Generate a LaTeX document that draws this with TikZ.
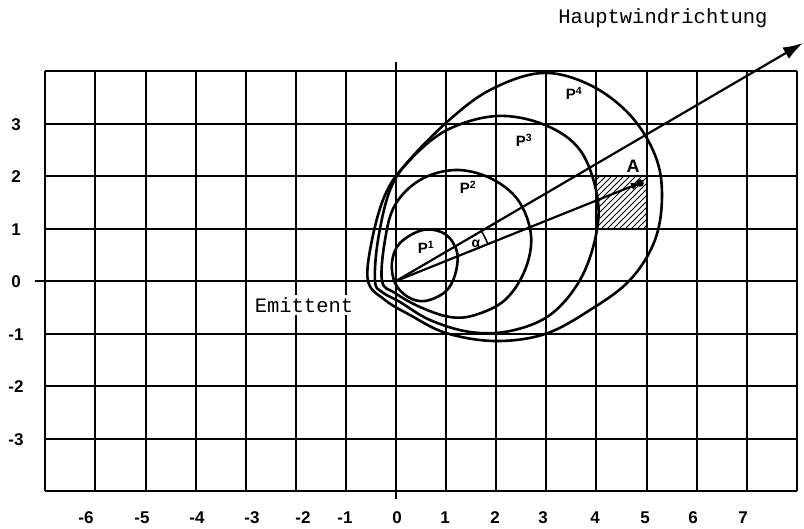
\documentclass[tikz,border=0pt]{standalone}
\usepackage{fontspec}
\setmainfont{Liberation Sans}
\setmonofont{Liberation Mono}
\usetikzlibrary{arrows.meta}
\begin{document}
\begin{tikzpicture}[x=1pt,y=-1pt,
  gridline/.style={line width=2pt, black},
  curve/.style={line width=2.6pt, black},
  num/.style={font=\fontsize{17}{17}\selectfont\bfseries, inner sep=0pt},
  plabel/.style={font=\fontsize{15}{15}\selectfont\bfseries, inner sep=0pt},
  mono/.style={font=\ttfamily\fontsize{20.5}{20.5}\selectfont, inner sep=0pt}]
\useasboundingbox (0,0) rectangle (804,528);
\fill[white] (0,0) rectangle (804,528);
% grid
\foreach \i in {-7,...,8} { \draw[gridline] ({396+50.1*\i},71) -- ({396+50.1*\i},491); }
\foreach \j in {-4,...,4} { \draw[gridline] (45.3,{281-52.5*\j}) -- (796.8,{281-52.5*\j}); }
\draw[gridline] (396,62) -- (396,499);
\draw[gridline] (35,281) -- (46,281);
% axis labels
\foreach \i/\xx in {-6/86,-5/142,-4/197,-3/252,-2/303,-1/345,0/397,1/445,2/495,3/543,4/595,5/645,6/693,7/743}
  { \node[num] (xl\i) at (\xx,518) {\i}; }
\foreach \j in {-3,...,3}
  { \node[num] (yl\j) at (16,{282-52.5*\j}) {\j}; }
% hatched square
\begin{scope}
  \clip (596,177) rectangle (646.5,228);
  \foreach \k in {-54,-48,...,54} { \draw[line width=0.8pt] ({596+\k},228) -- ({647+\k},177); }
\end{scope}
% curves
\draw[curve] plot[smooth cycle, tension=0.6] coordinates {(395,283) (392,262) (400,243) (423,230) (445,234) (457,252) (455,275) (445,292) (425,301) (408,297)};
\draw[curve] plot[smooth cycle, tension=0.6] coordinates {(382,281) (385,240) (395,205) (420,180) (455,170) (490,178) (518,200) (531,235) (525,270) (505,300) (475,315) (450,317) (420,307) (395,293)};
\draw[curve] plot[smooth cycle, tension=0.6] coordinates {(375,281) (378,240) (390,190) (410,160) (447,130) (497,116) (545,125) (580,150) (597,195) (596,235) (580,280) (550,315) (510,331) (470,332) (430,320) (400,302) (382,292)};
\draw[curve] plot[smooth cycle, tension=0.6] coordinates {(368,281) (372,240) (385,195) (405,165) (447,122) (490,90) (542,73) (590,85) (630,115) (655,155) (662,195) (655,240) (630,280) (590,310) (545,334) (495,341) (446,333) (410,315) (385,300)};
% arrows
\coordinate (O) at (396,281);
\coordinate (W) at (803,43);
\coordinate (A) at (640,183);
\draw[line width=2.2pt, -{Latex[length=20pt,width=13pt]}] (O) -- (W);
\draw[line width=2.2pt, -{Latex[length=9pt,width=8pt]}] (O) -- (A);
\fill (A) circle (3.8pt);
\draw[line width=1.5pt] ([shift={(-21.9:99)}]O) arc[start angle=-21.9, end angle=-30.3, radius=99];
\node[font=\fontsize{14}{14}\selectfont\bfseries, inner sep=0pt] (alpha) at (476,244) {α};
% labels
\node[num, font=\fontsize{18}{18}\selectfont\bfseries] (Alab) at (633,166) {A};
\node[plabel] (p1) at (426,247) {P\textsuperscript{1}};
\node[plabel] (p2) at (468,187) {P\textsuperscript{2}};
\node[plabel] (p3) at (524,140) {P\textsuperscript{3}};
\node[plabel] (p4) at (574,93) {P\textsuperscript{4}};
\node[mono] (hw) at (663,18) {Hauptwindrichtung};
\node[mono, fill=white, inner sep=2pt] (em) at (304,305) {Emittent};
\end{tikzpicture}
\end{document}
